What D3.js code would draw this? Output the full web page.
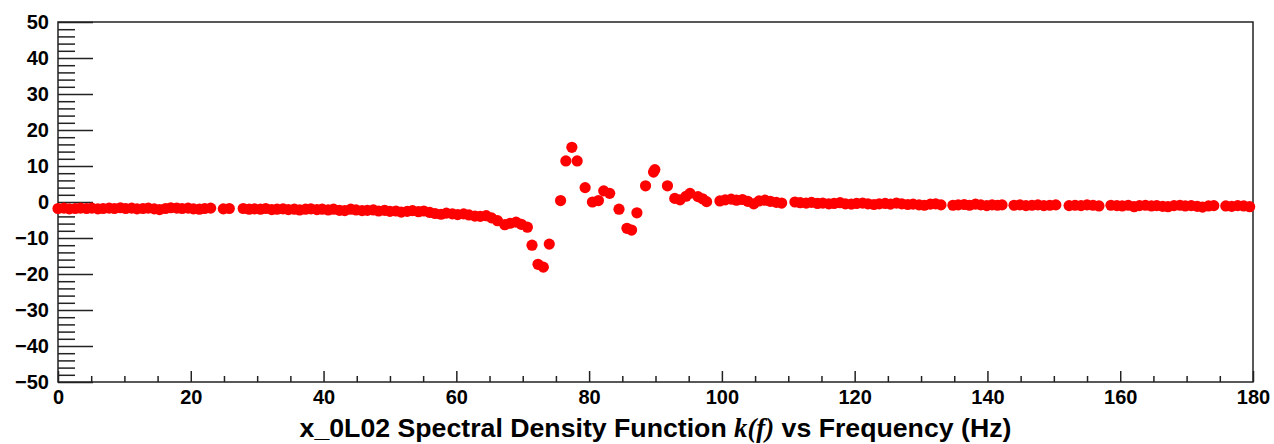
<!DOCTYPE html>
<html>
<head>
<meta charset="utf-8">
<script src="https://cdn.jsdelivr.net/npm/d3@7"></script>
<style>
  html, body { margin: 0; padding: 0; background: #fff; }
  svg { display: block; }
  .tick text { font-family: "Liberation Sans", Arial, sans-serif; font-weight: bold; font-size: 20px; fill: #000; }
</style>
</head>
<body>
<svg id="chart" width="1274" height="444"></svg>
<script>
// ---- data ----
const frequency = [
  0.0, 0.9, 1.7, 2.6, 3.4, 4.3, 5.1, 6.0, 6.8, 7.7, 8.5, 9.4, 10.2, 11.1, 11.9, 12.8, 13.6, 14.5, 15.3, 16.2,
  17.0, 17.9, 18.7, 19.6, 20.4, 21.3, 22.1, 23.0, 24.9, 25.8, 27.9, 28.8, 29.6, 30.5, 31.3, 32.2, 33.0, 33.9,
  34.7, 35.6, 36.4, 37.3, 38.1, 39.0, 39.8, 40.7, 41.5, 42.4, 43.2, 44.1, 44.9, 45.8, 46.6, 47.5, 48.3, 49.2,
  50.0, 50.9, 51.7, 52.6, 53.4, 54.3, 55.1, 56.0, 56.8, 57.7, 58.5, 59.4, 60.2, 61.1, 61.9, 62.8, 63.6, 64.5,
  65.3, 66.2, 67.3, 68.1, 69.0, 69.8, 70.7, 71.4, 72.3, 73.1, 74.0, 75.7, 76.5, 77.4, 78.2, 79.4, 80.5, 81.4,
  82.2, 83.1, 84.5, 85.7, 86.4, 87.2, 88.5, 89.7, 89.9, 91.8, 92.9, 93.7, 94.6, 95.2, 96.4, 97.1, 97.7,
  99.7, 100.5, 101.4, 102.2, 103.1, 103.9, 104.8, 105.6, 106.5, 107.3, 108.2, 109.0, 111.0, 111.8, 112.7,
  113.5, 114.4, 115.2, 116.1, 116.9, 117.8, 118.6, 119.5, 120.3, 121.2, 122.0, 122.9, 123.7, 124.6, 125.4,
  126.3, 127.1, 128.0, 128.8, 129.7, 130.5, 131.4, 132.2, 133.0, 134.8, 135.6, 136.5, 137.3, 138.2, 139.0,
  139.9, 140.7, 141.5, 142.2, 144.0, 144.9, 145.8, 146.7, 147.6, 148.5, 149.4, 150.3, 152.3, 153.2, 154.1,
  155.0, 155.9, 156.8, 158.6, 159.5, 160.3, 161.2, 162.1, 162.9, 163.8, 164.7, 165.5, 166.4, 167.2, 168.1,
  169.0, 169.8, 170.7, 171.6, 172.4, 173.3, 174.1, 175.9, 176.8, 177.7, 178.6, 179.5
];
const kValues = [
  -1.8, -1.7, -1.9, -1.8, -1.7, -1.8, -1.7, -1.9, -1.8, -1.7, -1.8, -1.6, -1.8, -1.7, -1.9, -1.8, -1.7, -1.9, -2.1, -1.8,
  -1.6, -1.7, -1.8, -1.7, -1.9, -2.0, -1.8, -1.7, -1.9, -1.8, -1.8, -2.0, -1.9, -2.0, -1.8, -2.1, -2.0, -1.9,
  -2.1, -2.0, -2.2, -2.0, -1.9, -2.1, -2.0, -2.2, -2.0, -2.3, -2.4, -2.0, -2.2, -2.4, -2.3, -2.2, -2.5, -2.3,
  -2.6, -2.5, -2.8, -2.6, -2.4, -2.7, -2.5, -2.9, -3.2, -3.4, -3.1, -3.3, -3.5, -3.3, -3.6, -3.9, -4.0, -3.8,
  -4.4, -5.2, -6.3, -5.9, -5.6, -6.2, -7.0, -12.0, -17.3, -18.1, -11.7, 0.4, 11.4, 15.2, 11.4, 4.0, 0.0, 0.4,
  3.1, 2.4, -2.0, -7.3, -7.8, -3.0, 4.5, 8.3, 9.0, 4.5, 1.0, 0.6, 1.6, 2.4, 1.5, 0.9, 0.1,
  0.3, 0.6, 0.8, 0.5, 0.7, 0.2, -0.5, 0.3, 0.5, 0.2, -0.1, -0.3, 0.0, -0.2, -0.3,
  -0.1, -0.4, -0.3, -0.5, -0.4, -0.2, -0.5, -0.6, -0.4, -0.3, -0.5, -0.7, -0.5, -0.4, -0.6,
  -0.3, -0.5, -0.7, -0.6, -0.8, -0.9, -0.6, -0.5, -0.8, -0.9, -0.8, -0.7, -0.9, -0.6, -0.8,
  -1.0, -0.8, -0.9, -0.8, -0.9, -0.8, -1.0, -0.9, -0.8, -1.0, -0.9, -0.8, -1.0, -0.9, -1.0,
  -0.8, -0.9, -1.1, -0.9, -1.0, -1.1, -0.9, -1.3, -1.0, -0.9, -1.1, -1.0, -1.2, -1.3, -1.0,
  -0.9, -1.1, -1.0, -1.2, -1.4, -1.1, -1.0, -1.1, -1.2, -1.0, -1.1, -1.3
];
const xTickLabels = [0, 20, 40, 60, 80, 100, 120, 140, 160, 180];
const yTickLabels = [-50, -40, -30, -20, -10, 0, 10, 20, 30, 40, 50];
const xDomain = [0, 180];
const yDomain = [-50, 50];
const titleMain = "x_0L02 Spectral Density Function ";
const titleItalic = "k(f)";
const titleEnd = " vs Frequency (Hz)";

(function () {
  const svg = d3.select("#chart");
  const pL = 58, pR = 1253, pT = 22, pB = 382;

  const x = d3.scaleLinear().domain(xDomain).range([pL, pR]);
  const y = d3.scaleLinear().domain(yDomain).range([pB, pT]);

  const xMinor = d3.range(0, 181, 5).filter(v => v % 20 !== 0);
  const yMinor = d3.range(-50, 51, 2).filter(v => v % 10 !== 0);

  // minor ticks
  svg.append("g").attr("transform", `translate(0,${pB})`)
    .call(d3.axisBottom(x).tickValues(xMinor).tickSize(-6).tickFormat(""))
    .call(g => g.select(".domain").remove())
    .selectAll("line").attr("stroke", "#222").attr("stroke-width", 1.5);
  svg.append("g").attr("transform", `translate(${pL},0)`)
    .call(d3.axisLeft(y).tickValues(yMinor).tickSize(-17).tickFormat(""))
    .call(g => g.select(".domain").remove())
    .selectAll("line").attr("stroke", "#222").attr("stroke-width", 1.5);

  // major ticks + labels
  const gx = svg.append("g").attr("transform", `translate(0,${pB})`)
    .call(d3.axisBottom(x).tickValues(xTickLabels).tickSize(-11).tickPadding(8).tickFormat(d3.format("d")));
  gx.select(".domain").remove();
  gx.selectAll("line").attr("stroke", "#222").attr("stroke-width", 1.5);

  const gy = svg.append("g").attr("transform", `translate(${pL},0)`)
    .call(d3.axisLeft(y).tickValues(yTickLabels).tickSize(-35).tickPadding(9).tickFormat(d3.format("d")));
  gy.select(".domain").remove();
  gy.selectAll("line").attr("stroke", "#222").attr("stroke-width", 1.5);

  // frame
  svg.append("rect")
    .attr("x", pL).attr("y", pT)
    .attr("width", pR - pL).attr("height", pB - pT)
    .attr("fill", "none").attr("stroke", "#222").attr("stroke-width", 1.5);

  // markers
  const pts = frequency.map((f, i) => ({ f, v: kValues[i] }));
  svg.append("g").selectAll("circle").data(pts).join("circle")
    .attr("cx", d => x(d.f))
    .attr("cy", d => y(d.v))
    .attr("r", 5.6)
    .attr("fill", "#ff0000");

  // title
  const t = svg.append("text")
    .attr("x", (pL + pR) / 2).attr("y", 437)
    .attr("text-anchor", "middle")
    .style("font-family", "'Liberation Sans', Arial, sans-serif")
    .style("font-weight", "bold")
    .style("font-size", "26.7px")
    .attr("fill", "#000");
  t.append("tspan").text(titleMain);
  t.append("tspan").text(titleItalic)
    .style("font-family", "'Liberation Serif', 'Times New Roman', serif")
    .style("font-style", "italic");
  t.append("tspan").text(titleEnd);
})();
</script>
</body>
</html>
